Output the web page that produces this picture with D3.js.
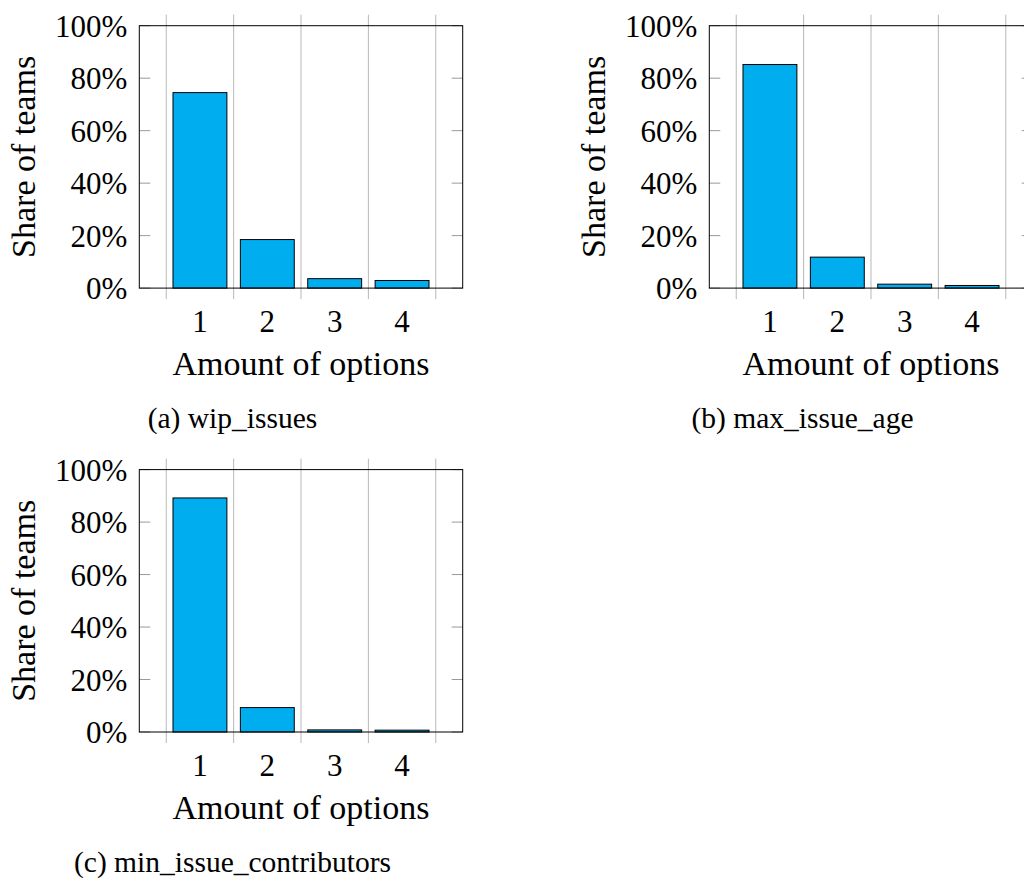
<!DOCTYPE html>
<html>
<head>
<meta charset="utf-8">
<script src="https://cdn.jsdelivr.net/npm/d3@7"></script>
<style>
  html, body { margin: 0; padding: 0; background: #ffffff; }
  svg { display: block; }
</style>
</head>
<body>
<svg id="chart" width="1024" height="881"></svg>
<script>
// ---- data ----
const categories = [1, 2, 3, 4];
const wipIssues = [74.5, 18.5, 3.6, 2.9];
const maxIssueAge = [85.2, 11.8, 1.5, 1.0];
const minIssueContributors = [89.2, 9.3, 0.8, 0.7];
const yTicks = [0, 20, 40, 60, 80, 100];
const xGridTicks = [0.5, 1.5, 2.5, 3.5, 4.5];
const captions = ["(a) wip_issues", "(b) max_issue_age", "(c) min_issue_contributors"];
const xLabel = "Amount of options";
const yLabel = "Share of teams";

// ---- layout ----
const W = 323.4, H = 262.4;
const panels = [
  { values: wipIssues, caption: captions[0], left: 139.3, top: 25.7 },
  { values: maxIssueAge, caption: captions[1], left: 709.3, top: 25.7 },
  { values: minIssueContributors, caption: captions[2], left: 139.3, top: 469.6 }
];

const FONT = "'Liberation Serif', 'Times New Roman', Times, 'DejaVu Serif', serif";
const svg = d3.select("#chart");
const x = d3.scaleLinear().domain([0.1, 4.9]).range([0, W]);
const y = d3.scaleLinear().domain([0, 100]).range([H, 0]);
const barHalf = 0.4;
const tickFont = 31;
const labelFont = 34;
const captionFont = 29.5;

panels.forEach(p => {
  const g = svg.append("g").attr("transform", `translate(${p.left},${p.top})`)
    .attr("font-family", FONT).attr("fill", "#000");

  g.selectAll(".grid").data(xGridTicks).enter().append("line")
    .attr("x1", d => x(d)).attr("x2", d => x(d))
    .attr("y1", -11).attr("y2", H + 11)
    .attr("stroke", "#b8b8b8").attr("stroke-width", 1);

  g.selectAll(".ytl").data(yTicks).enter().append("line")
    .attr("x1", 0).attr("x2", 11)
    .attr("y1", d => y(d)).attr("y2", d => y(d))
    .attr("stroke", "#999").attr("stroke-width", 1);
  g.selectAll(".ytr").data(yTicks).enter().append("line")
    .attr("x1", W - 11).attr("x2", W)
    .attr("y1", d => y(d)).attr("y2", d => y(d))
    .attr("stroke", "#999").attr("stroke-width", 1);

  g.selectAll(".bar").data(categories).enter().append("rect")
    .attr("x", (c) => x(c - barHalf))
    .attr("width", (c) => x(c + barHalf) - x(c - barHalf))
    .attr("y", (c, i) => y(p.values[i]))
    .attr("height", (c, i) => y(0) - y(p.values[i]))
    .attr("fill", "#00AEEF")
    .attr("stroke", "#000").attr("stroke-width", 1);

  g.append("rect").attr("x", 0).attr("y", 0).attr("width", W).attr("height", H)
    .attr("fill", "none").attr("stroke", "#000").attr("stroke-width", 1);

  g.selectAll(".ylab").data(yTicks).enter().append("text")
    .attr("x", -12).attr("y", d => y(d) + 11)
    .attr("text-anchor", "end")
    .attr("font-family", FONT)
    .attr("font-size", tickFont)
    .text(d => d + "%");

  g.selectAll(".xlab").data(categories).enter().append("text")
    .attr("x", d => x(d)).attr("y", H + 44)
    .attr("text-anchor", "middle")
    .attr("font-family", FONT)
    .attr("font-size", tickFont)
    .text(d => d);

  g.append("text").attr("x", W / 2).attr("y", H + 87)
    .attr("text-anchor", "middle").attr("font-family", FONT)
    .attr("font-size", labelFont).text(xLabel);
  g.append("text")
    .attr("transform", `translate(${-104},${H / 2}) rotate(-90)`)
    .attr("text-anchor", "middle").attr("font-family", FONT)
    .attr("font-size", labelFont).text(yLabel);

  g.append("text").attr("x", 93.2).attr("y", H + 140)
    .attr("text-anchor", "middle").attr("font-family", FONT)
    .attr("font-size", captionFont).text(p.caption);
});
</script>
</body>
</html>
